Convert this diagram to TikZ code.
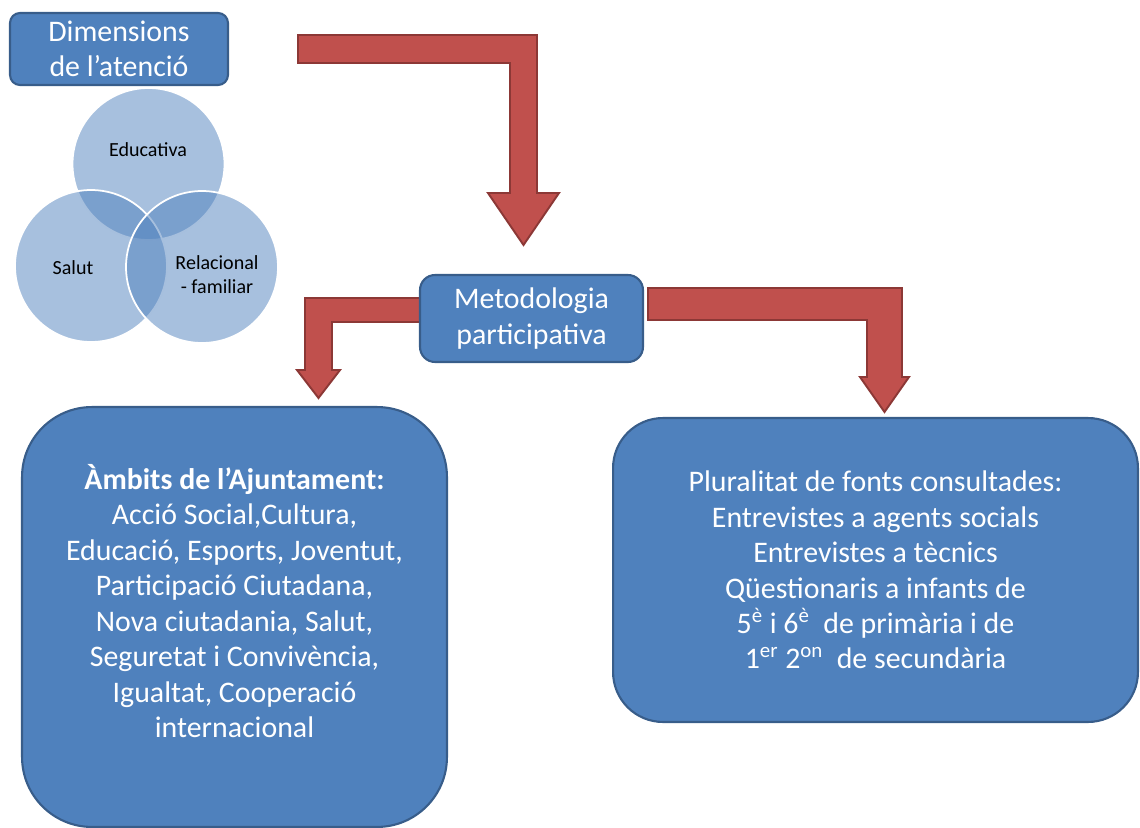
\documentclass[tikz,border=0pt]{standalone}
\usepackage{fontspec}
\setmainfont{Carlito}
\definecolor{boxblue}{HTML}{4F81BD}
\definecolor{boxedge}{HTML}{385D8A}
\definecolor{arrowred}{HTML}{C0504D}
\definecolor{arrowedge}{HTML}{8C3836}
\tikzset{
  bluebox/.style={draw=boxedge, fill=boxblue, line width=1.2pt, rounded corners=#1,
    text=white, align=center, inner sep=0pt, font=\fontsize{17}{20.2}\selectfont},
  bluebox/.default=0.2cm,
  venn/.style={circle, draw=white, line width=1pt, fill=boxblue, fill opacity=0.5,
    minimum size=3.04cm, inner sep=0pt},
  venntext/.style={text=black, align=center, font=\fontsize{11.4}{13.6}\selectfont},
  redarrow/.style={draw=arrowedge, fill=arrowred, line width=1.1pt, line join=miter}
}
\begin{document}
\begin{tikzpicture}[x=0.02cm,y=-0.02cm]
\useasboundingbox (0,0) rectangle (1140,828);
\node[venn] (edu) at (148.5,164) {};
\node[venn] (sal) at (91,266) {};
\node[venn] (rel) at (202,267) {};
\node[venntext] (edutext) at (148,150) {Educativa};
\node[venntext] (saltext) at (73,268) {Salut};
\node[venntext] (reltext) at (217,275) {Relacional\\- familiar};
\draw[redarrow] (298,35) -- (537,35) -- (537,193) -- (559,193) -- (523.5,245) -- (488,193) -- (510,193) -- (510,63) -- (298,63) -- cycle;
\draw[redarrow] (430,298) -- (305,298) -- (305,370) -- (297,370) -- (318.5,398) -- (340,370) -- (332,370) -- (332,322) -- (430,322) -- cycle;
\draw[redarrow] (648,288) -- (902,288) -- (902,377) -- (909,377) -- (884.5,412) -- (860,377) -- (867,377) -- (867,320) -- (648,320) -- cycle;
\node[bluebox, minimum width=4.36cm, minimum height=1.44cm] (dim) at (119,49) {Dimensions\\de l’atenció};
\node[bluebox=0.3cm, minimum width=4.46cm, minimum height=1.74cm] (meto) at (531.5,318.5) {Metodologia\\participativa};
\node[bluebox=1.4cm, minimum width=8.5cm, minimum height=8.4cm] (ambits) at (234.5,617) {};
\node[bluebox, draw=none, fill=none] (ambitstext) at ([yshift=0.32cm]ambits.center) {\textbf{Àmbits de l’Ajuntament:}\\
Acció Social,Cultura,\\
Educació, Esports, Joventut,\\
Participació Ciutadana,\\
Nova ciutadania, Salut,\\
Seguretat i Convivència,\\
Igualtat, Cooperació\\
internacional};
\node[bluebox=1cm, minimum width=10.5cm, minimum height=6.08cm] (fonts) at (875.5,570) {Pluralitat de fonts consultades:\\
Entrevistes a agents socials\\
Entrevistes a tècnics\\
Qüestionaris a infants de\\
5\textsuperscript{è} i 6\textsuperscript{è}\ \ de primària i de\\
1\textsuperscript{er} 2\textsuperscript{on}\ \ de secundària};
\end{tikzpicture}
\end{document}
